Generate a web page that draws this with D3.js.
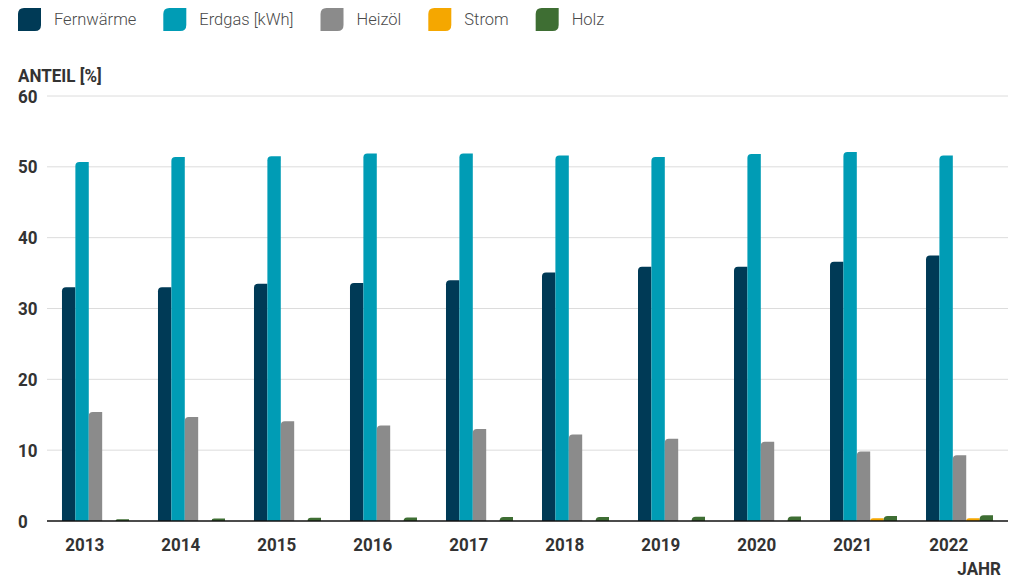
<!DOCTYPE html>
<html>
<head>
<meta charset="utf-8">
<script src="https://cdn.jsdelivr.net/npm/d3@7"></script>
<style>
  html, body { margin: 0; padding: 0; background: #fff; }
  svg { display: block; }
  .lbl { font-family: "Roboto", "DejaVu Sans Condensed", sans-serif; font-weight: 700; fill: #333; }
  .leg { font-family: "Roboto", "Noto Sans", sans-serif; font-weight: 300; fill: #4a4a4a; }
</style>
</head>
<body>
<svg id="chart" width="1012" height="579"></svg>
<script>
// Anteil der Energieträger an der Wärmeversorgung, 2013–2022 (in %)
const years = ["2013", "2014", "2015", "2016", "2017", "2018", "2019", "2020", "2021", "2022"];
const seriesNames = ["Fernwärme", "Erdgas [kWh]", "Heizöl", "Strom", "Holz"];
const fernwaerme = [33.0, 33.0, 33.5, 33.6, 34.0, 35.1, 35.9, 35.9, 36.6, 37.5];
const erdgas     = [50.7, 51.4, 51.5, 51.9, 51.9, 51.6, 51.4, 51.8, 52.1, 51.6];
const heizoel    = [15.4, 14.7, 14.1, 13.5, 13.0, 12.2, 11.6, 11.2, 9.8, 9.3];
const strom      = [0, 0, 0, 0, 0, 0, 0, 0, 0.4, 0.4];
const holz       = [0.25, 0.35, 0.45, 0.5, 0.55, 0.55, 0.6, 0.65, 0.7, 0.8];
const yTicks = [0, 10, 20, 30, 40, 50, 60];
const colors = ["#003a56", "#009cb5", "#8b8b8b", "#f5a700", "#3e6e33"];

const values = [fernwaerme, erdgas, heizoel, strom, holz];
const rows = years.map((yr, i) => ({ year: yr, vals: seriesNames.map((s, k) => ({ key: s, value: values[k][i], idx: k })) }));

const svg = d3.select("#chart");
const plotLeft = 47, plotRight = 1008, plotTop = 96, plotBottom = 521;
const narrow = 0.92; // horizontal squeeze for the condensed axis lettering

const x = d3.scaleBand().domain(years).range([plotLeft, plotRight]).paddingInner(0.302).paddingOuter(0.156);
const xs = d3.scaleBand().domain(seriesNames).range([0, x.bandwidth()]);
const y = d3.scaleLinear().domain([0, 60]).range([plotBottom, plotTop]);

// condensed bold label at (px, py)
function label(parent, px, py, txt, anchor) {
  return parent.append("text").attr("class", "lbl")
    .attr("transform", `translate(${px},${py}) scale(${narrow},1)`)
    .attr("text-anchor", anchor || "start")
    .attr("font-size", 18.5)
    .text(txt);
}

// horizontal grid
svg.append("g").selectAll("line").data(yTicks.filter(t => t > 0)).join("line")
  .attr("x1", plotLeft).attr("x2", plotRight)
  .attr("y1", d => y(d)).attr("y2", d => y(d))
  .attr("stroke", "#dcdcdc").attr("stroke-width", 1);

// y tick labels
const yl = svg.append("g");
yTicks.forEach(t => label(yl, 18, y(t) + 6.6, t));

label(svg, 18, 82, "ANTEIL [%]");

// bar with rounded top-left corner
function barPath(x0, w, yTop, yBase) {
  const h = yBase - yTop;
  if (h <= 0) return "";
  const r = Math.min(4, h, w);
  return `M${x0},${yBase}V${yTop + r}Q${x0},${yTop} ${x0 + r},${yTop}H${x0 + w}V${yBase}Z`;
}

const groups = svg.append("g").selectAll("g").data(rows).join("g")
  .attr("transform", d => `translate(${x(d.year)},0)`);
groups.selectAll("path").data(d => d.vals).join("path")
  .attr("d", d => barPath(xs(d.key), xs.bandwidth(), y(d.value), y(0)))
  .attr("fill", d => colors[d.idx]);

// baseline
svg.append("line").attr("x1", plotLeft).attr("x2", plotRight)
  .attr("y1", y(0)).attr("y2", y(0))
  .attr("stroke", "#111").attr("stroke-width", 1.6);

// x labels
const xl = svg.append("g");
years.forEach(yr => label(xl, x(yr) + x.bandwidth() * 0.34, 551, yr, "middle"));

label(svg, 1001, 574.5, "JAHR", "end");

// legend
const leg = svg.append("g");
let lx = 18;
seriesNames.forEach((name, k) => {
  const s = 23, r = 6, ly = 8;
  leg.append("path")
    .attr("d", `M${lx + r},${ly}H${lx + s}V${ly + s - r}Q${lx + s},${ly + s} ${lx + s - r},${ly + s}H${lx}V${ly + r}Q${lx},${ly} ${lx + r},${ly}Z`)
    .attr("fill", colors[k]);
  const t = leg.append("text").attr("class", "leg")
    .attr("x", lx + 36).attr("y", ly + s / 2).attr("dy", "0.35em")
    .attr("font-size", 16.5).text(name);
  lx += 36 + t.node().getComputedTextLength() + 27;
});
</script>
</body>
</html>
